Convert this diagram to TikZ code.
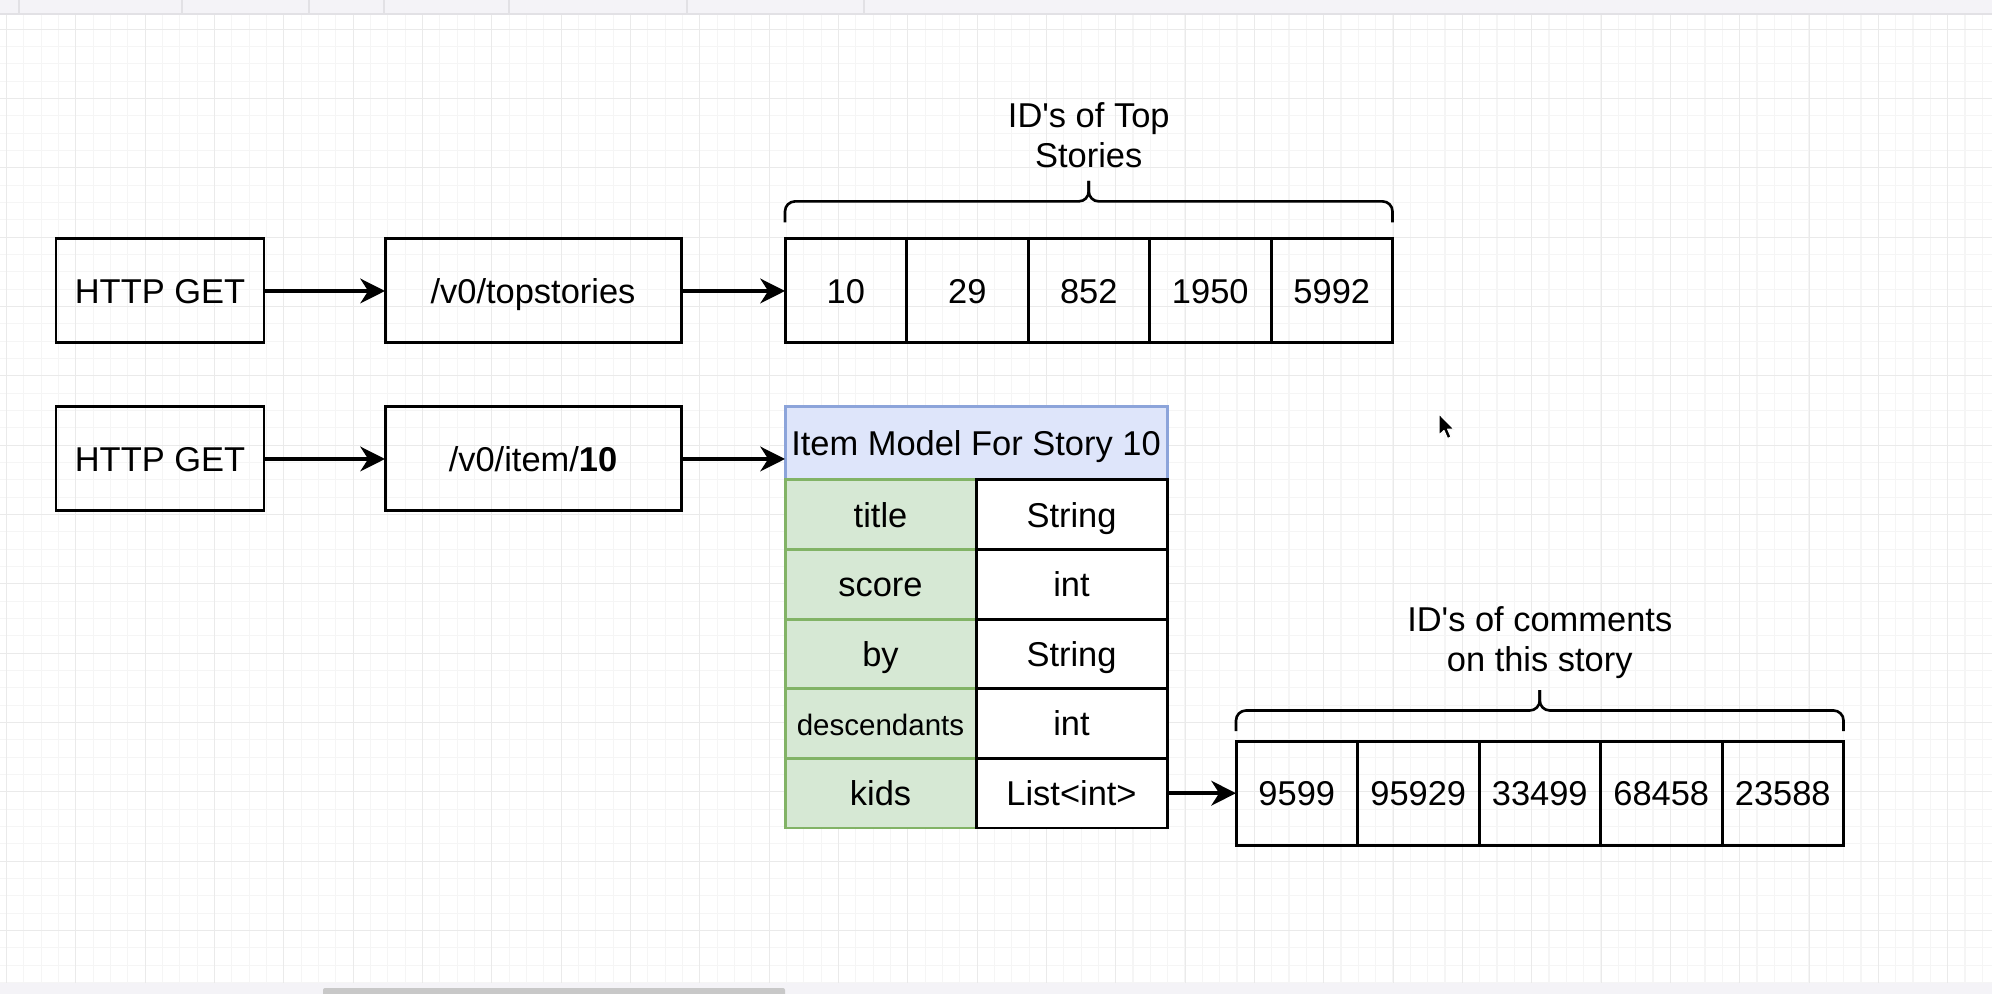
\documentclass[tikz,border=0pt]{standalone}
\usepackage{fontspec}
\setmainfont{Liberation Sans}
\usetikzlibrary{arrows.meta, positioning, calc}
\definecolor{hdrC} {RGB}{222,229,250}
\definecolor{hdrD} {RGB}{140,164,218}
\definecolor{keyC} {RGB}{214,232,212}
\definecolor{keyD} {RGB}{130,179,102}
\definecolor{gridC}{RGB}{245,245,245}
\definecolor{gridM}{RGB}{234,234,234}
\definecolor{barC} {RGB}{244,243,247}
\definecolor{barD} {RGB}{226,225,229}
\definecolor{thumbC}{RGB}{200,200,200}
\newcommand{\lblfont}{\fontsize{9.8}{11.4}\selectfont}
\newcommand{\tinyfont}{\fontsize{8.4}{10}\selectfont}
\tikzset{
  box/.style     = {draw, line width=0.85pt, minimum width=2.08cm, minimum height=1.04cm,
                    inner sep=0pt, outer sep=0pt, text height=0.95em, text depth=0.25em,
                    font=\lblfont},
  wide/.style    = {box, minimum width=2.96cm},
  cell/.style    = {box, minimum width=1.215cm},
  hdr/.style     = {box, draw=hdrD, fill=hdrC, minimum width=3.82cm, minimum height=0.73cm},
  keycell/.style = {box, draw=keyD, fill=keyC, minimum width=1.91cm, minimum height=0.696cm},
  valcell/.style = {box, fill=white, minimum width=1.91cm, minimum height=0.696cm},
  link/.style    = {-{Stealth[length=7pt, width=7pt, inset=2.2pt]}, line width=1.3pt},
  bracket/.style = {line width=0.75pt, rounded corners=0.1cm},
  lbl/.style     = {font=\lblfont, align=center, inner sep=0pt},
  gridline/.style= {draw=gridC, line width=0.3pt},
  gridmajor/.style={draw=gridM, line width=0.3pt},
}
\begin{document}
\begin{tikzpicture}

% ---- Canvas -----------------------------------------------------------------
\useasboundingbox (0,0) rectangle (19.92,-9.94);
\fill[white] (0,0) rectangle (19.92,-9.94);
\foreach \k in {0,...,114}
  \draw[gridline] ({0.064+0.17333*\k},-0.14) -- ++(0,-9.69);
\foreach \k in {1,...,56}
  \draw[gridline] (0,{-0.118-0.17333*\k}) -- ++(19.92,0);
\foreach \k in {0,...,28}
  \draw[gridmajor] ({0.064+0.69333*\k},-0.14) -- ++(0,-9.69);
\foreach \k in {0,...,13}
  \draw[gridmajor] (0,{-0.2913-0.69333*\k}) -- ++(19.92,0);

% toolbar and scroll bar
\fill[barC] (0,0) rectangle (19.92,-0.14);
\draw[barD, line width=0.4pt] (0,-0.14) -- (19.92,-0.14);
\foreach \x in {0.19,1.82,3.09,3.84,5.09,6.87,8.64}
  \draw[barD, line width=0.4pt] (\x,0) -- (\x,-0.13);
\fill[barC] (0,-9.83) rectangle (19.92,-9.94);
\fill[thumbC, rounded corners=0.02cm] (3.23,-9.88) rectangle (7.85,-9.96);

% ---- Row 1: top stories -----------------------------------------------------
\node[box] (A1) at (1.60,-2.91) {HTTP GET};
\node[wide, right=1.21cm of A1] (B1) {/v0/topstories};
\node[cell, right=1.04cm of B1] (t1) {10};
\foreach \v [count=\i from 2, remember=\i as \j (initially 1)] in {29,852,1950,5992}
  \node[cell, right=0pt of t\j] (t\i) {\v};

\draw[link] (A1) -- (B1);
\draw[link] (B1) -- (t1);

% brace over the ids
\coordinate (topmid) at ($(t1.north west)!0.5!(t5.north east)$);
\coordinate (toptip) at ([yshift=0.58cm]topmid);
\draw[bracket] ([yshift=0.166cm]t1.north west) |- ([yshift=0.376cm]topmid) -- (toptip);
\draw[bracket] ([yshift=0.166cm]t5.north east) |- ([yshift=0.376cm]topmid) -- (toptip);
\node[lbl, above=0.12cm of toptip] (toplbl) {ID\textquotesingle s of Top\\Stories};

% ---- Row 2: item model ------------------------------------------------------
\node[box, below=0.64cm of A1] (A2) {HTTP GET};
\node[wide, right=1.21cm of A2] (B2) {/v0/item/\textbf{10}};
\node[hdr, anchor=north west] (hdr) at (t1.west |- A2.north) {Item Model For Story 10};

\foreach \k/\v [count=\i] in {title/String, score/int, by/String,
                               {\tinyfont descendants}/int, kids/List<int>} {
  \node[keycell, anchor=north west] (k\i) at ($(hdr.south west)+(0,{-(\i-1)*0.696})$) {\k};
  \node[valcell, right=0pt of k\i] (v\i) {\v};
}

\draw[link] (A2) -- (B2);
\draw[link] (B2) -- (B2 -| hdr.west);

% ---- Comment ids ------------------------------------------------------------
\node[cell, right=0.69cm of v5] (c1) {9599};
\foreach \v [count=\i from 2, remember=\i as \j (initially 1)] in {95929,33499,68458,23588}
  \node[cell, right=0pt of c\j] (c\i) {\v};

\draw[link] (v5) -- (c1);

\coordinate (kidmid) at ($(c1.north west)!0.5!(c5.north east)$);
\coordinate (kidtip) at ([yshift=0.51cm]kidmid);
\draw[bracket] ([yshift=0.10cm]c1.north west) |- ([yshift=0.307cm]kidmid) -- (kidtip);
\draw[bracket] ([yshift=0.10cm]c5.north east) |- ([yshift=0.307cm]kidmid) -- (kidtip);
\node[lbl, above=0.11cm of kidtip] (kidlbl) {ID\textquotesingle s of comments\\on this story};

% mouse pointer
\begin{scope}[shift={(14.39,-4.14)}, scale=0.01]
  \fill[black, draw=white, line width=0.3pt, line join=round]
    (0,0) -- (0,-21) -- (5,-16.5) -- (8.5,-24.5) -- (12,-23) -- (8.6,-15.2) -- (15,-15.2) -- cycle;
\end{scope}

\end{tikzpicture}
\end{document}
